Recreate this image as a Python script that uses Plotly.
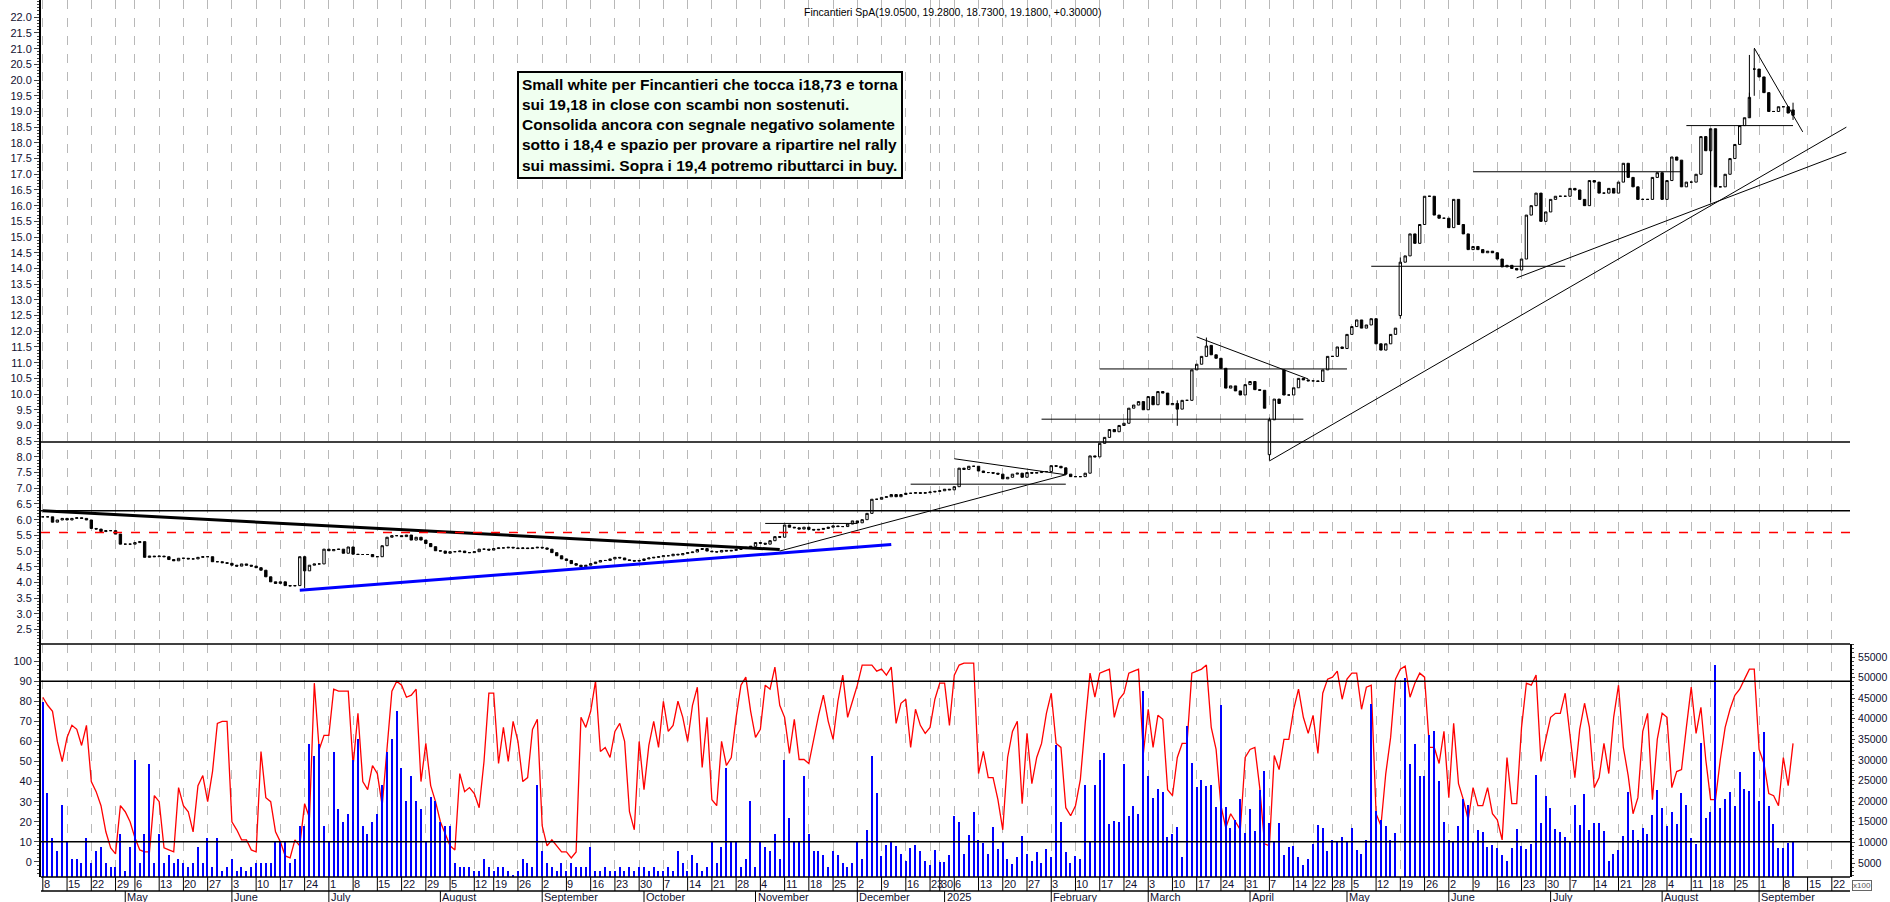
import pandas as pd
import plotly.graph_objects as go

HOLIDAYS = ["2024-05-01", "2024-08-15", "2024-12-24", "2024-12-25", "2024-12-26", "2024-12-31",
            "2025-01-01", "2025-04-18", "2025-04-21", "2025-05-01", "2025-08-15"]
END_DATE = "2025-09-10"
TITLE = "Fincantieri SpA(19.0500, 19.2800, 18.7300, 19.1800, +0.30000)"
NOTE = ("Small white per Fincantieri che tocca i18,73 e torna<br>sui 19,18 in close con scambi non sostenuti.<br>"
        "Consolida ancora con segnale negativo solamente<br>sotto i 18,4 e spazio per provare a ripartire nel rally<br>"
        "sui massimi. Sopra i 19,4 potremo ributtarci in buy.")

# ---- closes by segment (segment start date, values) ----
close_apr_aug24 = [6.09,6.09,5.92,5.99,6.04,5.99,6.04,6.06,6.04,5.99,5.72,5.7,5.62,5.65,5.65,5.54,5.22,5.22,5.22,5.27,
                   5.3,4.8,4.84,4.82,4.84,4.82,4.73,4.69,4.77,4.77,4.75,4.75,4.8,4.82,4.82,4.66,4.66,4.63,4.61,4.55,
                   4.52,4.59,4.55,4.52,4.47,4.39,4.18,4.02,3.97,4.02,3.9,3.89,3.9,4.82,4.37,4.55,4.59,4.59,5.06,5.01,
                   5.05,5.06,4.93,5.13,4.9,4.89,4.89,4.89,4.82,4.82,5.17,5.44,5.49,5.49,5.46,5.51,5.35,5.44,5.35,5.24,
                   5.14,5.01,5.0,4.93,4.98,4.98,5.0,4.95,4.95,4.98,5.06,5.06,5.03]
close_aug_oct24 = [5.08,5.1,5.1,5.12,5.1,5.08,5.1,5.08,5.1,5.12,5.1,5.06,4.95,4.85,4.75,4.7,4.6,4.55,4.5,4.55,
                   4.6,4.65,4.7,4.7,4.75,4.8,4.78,4.72,4.7,4.68,4.7,4.75,4.78,4.8,4.82,4.85,4.85,4.9,4.88,4.92,
                   4.95,4.97,5.05,5.08,5.0,4.98,4.97,5.02,5.0,5.02,5.05,5.08,5.12,5.15]
close_nov_dec24 = [5.27,5.25,5.22,5.33,5.46,5.44,5.83,5.76,5.74,5.7,5.76,5.69,5.67,5.69,5.72,5.76,5.8,5.78,5.78,5.86,
                   5.96,5.9,6.0,6.2,6.65,6.65,6.71,6.73,6.8,6.73,6.8]
close_dec24_may25 = [6.84,6.84,6.86,6.84,6.86,6.88,6.9,6.92,6.97,6.95,7.05,7.64,7.6,7.7,7.7,7.55,7.5,7.5,7.48,7.45,
                     7.3,7.35,7.45,7.48,7.35,7.5,7.48,7.5,7.53,7.53,7.72,7.7,7.65,7.45,7.37,7.37,7.37,7.48,8.03,8.0,
                     8.43,8.62,8.87,8.8,9.0,9.07,9.55,9.65,9.76,9.5,9.92,9.66,10.08,10.03,9.66,9.7,9.52,9.8,9.8,10.77,
                     10.95,11.2,11.53,11.25,11.14,10.82,10.19,10.26,10.1,9.97,10.3,10.4,10.14,10.12,9.55,9.18,9.84,9.7,9.97,9.97,
                     10.2,10.5,10.45,10.42,10.42,10.4,10.77,11.2,11.2,11.5,11.45,11.9,12.15,12.36,12.1,12.2,12.4,11.6,11.4,11.6,
                     11.9,12.1,12.5]
close_may_sep25 = [14.2,14.4,15.1,14.8,15.4,16.3,16.3,15.7,15.6,15.6,15.3,16.2,15.4,15.1,14.6,14.7,14.6,14.5,14.55,14.5,
                   14.3,14.05,14.1,14.0,13.95,14.3,15.7,16.0,16.4,15.5,15.8,16.2,16.3,16.3,16.3,16.55,16.5,16.2,16.0,16.8,
                   16.75,16.4,16.4,16.55,16.4,16.75,17.35,16.9,16.6,16.2,16.2,16.2,16.9,17.05,16.2,16.8,17.55,17.45,16.6,16.75,
                   16.75,17.0,18.2,17.75,18.45,16.6,16.6,17.0,17.5,17.95,18.55,18.8,19.45,20.35,20.1,19.6,19.0,19.0,19.15,19.15,
                   18.95,18.88,19.18]
open_gaps = {"2025-04-07": 8.07, "2025-04-10": 10.77, "2025-05-19": 12.5, "2025-08-14": 18.2,
             "2025-08-29": 20.35, "2025-09-10": 19.05, "2025-03-20": 11.55}
wicks = {"2025-04-07": (9.25, 7.88), "2025-09-10": (19.28, 18.73), "2024-06-24": (4.85, 3.82),
         "2025-08-28": (20.8, 19.6), "2025-08-29": (21.0, 19.5), "2025-03-11": (9.8, 8.99),
         "2025-05-19": (14.35, 12.4), "2025-08-18": (16.65, 16.1), "2025-03-19": (11.8, 11.2)}

# ---- oscillator (0-100) ----
osc_apr_dec24 = [82,78,75,60,50, 62,68,66,58,68, 40,35,28,15,7, 4,28,25,20,12, 6,5,5,33,30, 7,6,5,37,28,
                 25,15,38,43,30, 45,69,70,70,20, 16,11,11,6,5, 55,32,30,15,10, 3,2,11,8,29, 22,89,56,63,63,
                 86,85,85,85,48, 74,40,36,48,44, 28,55,85,90,88, 82,83,86,40,59, 38,30,20,14,8, 6,44,35,37,34,
                 27,50,84,84,49, 67,50,70,60,40, 42,66,71,18,8, 11,8,5,5,2, 5,72,67,75,90, 55,57,52,65,69,
                 60,25,16,60,36, 58,70,57,80,65, 68,80,72,60,78, 87,47,72,31,28, 60,48,52,72,88, 92,75,62,66,88,
                 86,97,78,72,54, 71,51,51,49,61, 73,83,70,61,80, 93,72,80,88,98, 98,98,95,97,68]
osc_dec24_may25 = [96,93,97,69,79,81,57,76,68,64,67,81,89,89,68,93,98,99,99,99,44,55,42,42,31,16,52,65,70,29,
                   64,39,52,59,74,84,59,57,27,23,28,41,69,94,82,94,95,96,72,81,84,94,95,96,54,76,57,73,71,36,
                   33,52,59,59,94,95,96,98,67,56,28,17,24,20,16,52,56,57,37,9,8,53,46,61,61,76,86,72,64,73,
                   54,84,91,92,95,81,91,94,94,76,87,88,24,18,44,62,83,96]
osc_may_sep25 = [91,96,97.5,82,89,94,92,57,57,49,65,32,69,39,31,21,37,28,28,37,24,21,11,52,29,29,67,89,88,93,
                 50,61,72,74,74,84,63,42,66,79,67,37,42,59,44,72,88,57,43,24,32,65,74,31,61,74,72,37,45,46,
                 67,87,64,77,51,31,31,51,67,76,83,86,91,96,96,56,49,34,33,28,52,38,59]

# ---- volume (thousands, x100 shares) ----
vol_apr_dec24 = [44,22,11,8,19, 10,6,6,5,11, 5,8,9,5,4, 4,12,3,9,30, 5,12,29,5,12, 5,7,5,6,5,
                 4,5,9,5,11, 4,11,3,4,6, 3,4,3,4,5, 5,5,5,10,10, 10,5,6,14,14, 34,31,34,14,10,
                 32,18,15,17,30, 35,14,12,15,17, 24,32,35,42,28, 20,26,20,18,10, 21,20,15,14,14, 5,4,4,4,3,
                 3,6,4,3,4, 4,3,2,3,6, 5,4,24,8,5, 4,3,5,3,5, 4,4,4,9,3, 3,4,3,3,4,
                 3,4,3,4,4, 3,4,3,3,4, 3,8,5,3,7, 5,3,4,10,5, 9,28,10,10,4, 6,20,4,10,9,
                 8,12,6,30,16, 10,10,26,12,8, 8,7,4,8,7, 5,4,5,10,6, 13,31,22,12,8]
vol_dec24_may25 = [6.7,9.4,10.2,9.1,7.2,5.6,8.6,9.4,8.0,5.6,4.6,8.2,5.3,5.3,7.0,16.4,14.9,7.3,11.8,17.5,
                   10.7,9.9,7.3,13.8,8.4,10.3,6.0,4.8,6.4,11.6,7.2,5.6,7.6,5.0,8.4,6.4,33.6,14.9,7.7,5,
                   6.7,6.0,23.9,10.2,23.9,30,31.6,14.5,15.2,14.9,29,16.4,18.8,17,46.7,26.1,20.7,23,22.2,11.2,
                   12,13.7,6.4,38.3,29.2,23.5,25.1,23.8,23.9,18.7,43.4,18.5,13.4,15.4,20.5,12.4,18,12.8,22.7,27.4,
                   14.6,10.2,14.6,6.9,8.8,9.1,6.4,4.5,6,9.6,14.2,13.4,7.9,10.6,10.2,11.4,10.2,13.4,8.2,7.2,
                   10.6,43.6,17.6,15.4,14,10.6,12.4]
vol_may_sep25 = [50,29,34,26,26,36,37,25,15,10.5,10,14,20.5,19,10,13,12.6,9,9.3,8.7,7,5.5,8.6,13.3,9.1,8.5,9.7,
                 26.4,14.8,21.3,18.3,13.3,12.5,11.4,10.2,19,14.2,21.7,13,14.6,14.6,12.8,5.5,7.3,8.2,11.5,22.3,13,
                 10.6,13.4,12,16.7,22.7,18.4,14,17.4,14.5,22,19,11.1,9.7,34.2,16,17.5,53,18.4,20.5,22.2,18.8,27,
                 23,22.5,32,20,36.8,18.8,14.5,8.7,8.7,9.8,10.2]

# ---- drawn lines (date0, price0, date1, price1, color, width) ----
trendlines = [("2024-04-08", 6.28, "2024-11-08", 5.05, "black", 3),
              ("2024-06-21", 3.75, "2024-12-11", 5.21, "#0000ff", 3),
              ("2024-11-08", 5.0, "2025-02-06", 7.43, "black", 1),
              ("2024-11-05", 5.88, "2024-12-02", 5.88, "black", 1),
              ("2024-12-17", 7.13, "2025-02-06", 7.13, "black", 1),
              ("2025-01-06", 7.94, "2025-02-06", 7.43, "black", 1),
              ("2025-01-30", 9.2, "2025-04-16", 9.2, "black", 1),
              ("2025-02-17", 10.8, "2025-05-02", 10.8, "black", 1),
              ("2025-03-17", 11.82, "2025-04-17", 10.48, "black", 1),
              ("2025-04-07", 7.87, "2025-09-25", 18.5, "black", 1),
              ("2025-06-20", 13.7, "2025-09-25", 17.7, "black", 1),
              ("2025-05-09", 14.07, "2025-07-04", 14.07, "black", 1),
              ("2025-06-09", 17.08, "2025-08-07", 17.08, "black", 1),
              ("2025-08-08", 18.55, "2025-09-10", 18.55, "black", 1),
              ("2025-08-29", 21.02, "2025-09-12", 18.35, "black", 1)]
levels = [(8.47, "solid", "black"), (6.28, "solid", "black"), (5.59, "dash", "#ff0000")]
osc_levels = [90, 10]
MONTHS = ["January", "February", "March", "April", "May", "June", "July", "August",
          "September", "October", "November", "December"]

# ---------- build ----------
hol = pd.to_datetime(HOLIDAYS)
cal = pd.bdate_range("2024-04-01", "2025-10-31")
cal = cal[~cal.isin(hol)]
end = pd.Timestamp(END_DATE)


def place(segments):
    d = {}
    for anchor, date, vals in segments:
        i0 = cal.searchsorted(pd.Timestamp(date))
        if anchor == "end":
            i0 = i0 - len(vals) + 1
        for k, v in enumerate(vals):
            d[cal[i0 + k]] = v
    s = pd.Series(d).sort_index()
    return s[s.index <= end]


close = place([("start", "2024-04-08", close_apr_aug24), ("start", "2024-08-19", close_aug_oct24),
               ("start", "2024-11-01", close_nov_dec24), ("start", "2024-12-16", close_dec24_may25),
               ("start", "2025-05-19", close_may_sep25)])
opn = close.shift(1).fillna(close.iloc[0])
for k, v in open_gaps.items():
    if pd.Timestamp(k) in opn.index:
        opn[pd.Timestamp(k)] = v
high = pd.concat([opn, close], axis=1).max(axis=1)
low = pd.concat([opn, close], axis=1).min(axis=1)
for k, (h, l) in wicks.items():
    t = pd.Timestamp(k)
    if t in high.index:
        high[t] = h
        low[t] = l

osc = place([("start", "2024-04-08", osc_apr_dec24), ("start", "2024-12-09", osc_dec24_may25),
             ("end", END_DATE, osc_may_sep25)])
vol = place([("start", "2024-04-08", vol_apr_dec24), ("start", "2024-12-09", vol_dec24_may25),
             ("end", END_DATE, vol_may_sep25)])

W, H = 1890, 902
ML, MR, MT, MB = 41, 40, 0, 25
PH = H - MT - MB
SPLIT = (877 - 644) / PH
XR = ["2024-04-05 15:00", "2025-09-25 18:00"]
rb = [dict(bounds=["sat", "mon"]), dict(values=HOLIDAYS)]

weeks = pd.Series(cal, index=cal)
week_starts = weeks.groupby(weeks.index.to_period("W")).first().values
week_starts = [pd.Timestamp(w) for w in week_starts if pd.Timestamp(XR[0]) < pd.Timestamp(w) < pd.Timestamp(XR[1])]
month_starts = weeks.groupby(weeks.index.to_period("M")).first().values
month_starts = [pd.Timestamp(m) for m in month_starts if pd.Timestamp("2024-05-01") <= pd.Timestamp(m) < pd.Timestamp(XR[1])]

fig = go.Figure()
fig.add_trace(go.Candlestick(x=close.index, open=opn, high=high, low=low, close=close,
                             xaxis="x2", yaxis="y",
                             increasing=dict(line=dict(color="black", width=1), fillcolor="white"),
                             decreasing=dict(line=dict(color="black", width=1), fillcolor="black"),
                             whiskerwidth=0, showlegend=False, hoverinfo="skip"))
fig.add_trace(go.Bar(x=vol.index, y=vol.values * 1000, xaxis="x", yaxis="y4",
                     marker=dict(color="#0000ff", line=dict(width=0)), width=86400000 * 0.28,
                     showlegend=False, hoverinfo="skip"))
fig.add_trace(go.Scatter(x=osc.index, y=osc.values, xaxis="x", yaxis="y2", mode="lines",
                         line=dict(color="#ff0000", width=1.3), showlegend=False, hoverinfo="skip"))

tickfont = dict(family="Liberation Sans, Arial", size=11, color="#101030")
rfont = dict(family="Liberation Sans, Arial", size=10.5, color="#101030")
xcommon = dict(type="date", range=XR, rangebreaks=rb, tickvals=week_starts, showticklabels=False,
               showgrid=True, gridcolor="#b8b8b8", griddash="dash", gridwidth=1, zeroline=False,
               showline=False, fixedrange=True)
pcommon = dict(domain=[SPLIT, 1], range=[2.04, 22.55], tickvals=[2.5 + 0.5 * i for i in range(40)],
               tickformat=".1f", showgrid=False, zeroline=False,
               showline=True, linecolor="black", linewidth=2)
fig.update_layout(
    width=W, height=H, margin=dict(l=ML, r=MR, t=MT, b=MB), paper_bgcolor="white", plot_bgcolor="white",
    bargap=0, showlegend=False,
    xaxis=dict(anchor="y2", domain=[0, 1], **xcommon),
    xaxis2=dict(anchor="y", domain=[0, 1], matches="x", rangeslider=dict(visible=False), **xcommon),
    yaxis=dict(side="left", anchor="x2", ticks="outside", ticklen=5, tickfont=tickfont,
               minor=dict(dtick=0.1, ticks="outside", ticklen=2, tick0=0), **pcommon),
    yaxis3=dict(side="right", overlaying="y", anchor="x2", ticks="outside", ticklen=3, tickfont=rfont,
                ticklabelstandoff=1, minor=dict(dtick=0.1, ticks="outside", ticklen=2, tick0=0), **pcommon),
    yaxis2=dict(domain=[0, SPLIT], range=[-7.5, 108.5], tickvals=list(range(0, 101, 10)), side="left",
                ticks="outside", ticklen=5, showgrid=False, zeroline=False, showline=True, linecolor="black",
                linewidth=2, tickfont=tickfont, anchor="x",
                minor=dict(dtick=2, ticks="outside", ticklen=2)),
    yaxis4=dict(overlaying="y2", side="right", range=[1602, 58155], tickvals=list(range(5000, 55001, 5000)),
                tickformat="d", ticks="outside", ticklen=3, showgrid=False, zeroline=False, showline=True,
                linecolor="black", linewidth=2, tickfont=rfont, anchor="x", ticklabelstandoff=1,
                minor=dict(dtick=1000, ticks="outside", ticklen=2)),
)

shapes = []
for d0, p0, d1, p1, col, w in trendlines:
    shapes.append(dict(type="line", xref="x2", yref="y", x0=d0, y0=p0, x1=d1, y1=p1,
                       line=dict(color=col, width=w)))
for p, dash, col in levels:
    shapes.append(dict(type="line", xref="paper", yref="y", x0=0, x1=1, y0=p, y1=p,
                       line=dict(color=col, width=1.6 if dash == "dash" else 1.5, dash="dash" if dash == "dash" else "solid")))
for v in osc_levels:
    shapes.append(dict(type="line", xref="paper", yref="y2", x0=0, x1=1, y0=v, y1=v,
                       line=dict(color="black", width=1.5)))
shapes.append(dict(type="line", xref="paper", yref="paper", x0=0, x1=1, y0=SPLIT, y1=SPLIT,
                   line=dict(color="black", width=1.5)))
shapes.append(dict(type="line", xref="paper", yref="paper", x0=0, x1=1, y0=0, y1=0,
                   line=dict(color="black", width=1.5)))
shapes.append(dict(type="line", xref="paper", yref="paper", x0=0, x1=1, y0=-14 / PH, y1=-14 / PH,
                   line=dict(color="black", width=1.5)))
for wk in week_starts:
    shapes.append(dict(type="line", xref="x", yref="paper", x0=wk, x1=wk, y0=0, y1=-14 / PH,
                       line=dict(color="black", width=1)))
for m in month_starts:
    shapes.append(dict(type="line", xref="x", yref="paper", x0=m, x1=m, y0=-14 / PH, y1=-25 / PH,
                       line=dict(color="black", width=1)))

ann = []
for wk in week_starts:
    ann.append(dict(x=wk, y=0, xref="x", yref="paper", text=str(wk.day), showarrow=False,
                    xanchor="left", yanchor="top", yshift=0, xshift=0, borderpad=0, font=tickfont))
for m in month_starts:
    label = str(m.year) if m.month == 1 else MONTHS[m.month - 1]
    ann.append(dict(x=m, y=-14 / PH, xref="x", yref="paper", text=label, showarrow=False,
                    xanchor="left", yanchor="top", yshift=1, xshift=1, borderpad=0, font=tickfont))
ann.append(dict(x=(802 - ML) / (W - ML - MR), y=1 - 4 / PH, xref="paper", yref="paper", text=TITLE,
                showarrow=False, xanchor="left", yanchor="top",
                font=dict(family="Liberation Sans, Arial", size=10.5, color="black")))
ann.append(dict(x=(517 - ML) / (W - ML - MR), y=1 - 71 / PH, xref="paper", yref="paper", text=NOTE,
                showarrow=False, xanchor="left", yanchor="top", align="left",
                bgcolor="#f0fff0", bordercolor="black", borderwidth=2, borderpad=3,
                font=dict(family="Liberation Sans, Arial", size=15.5, color="black", weight="bold")))
ann.append(dict(x=1, y=-8 / PH, xref="paper", yref="paper", text="x100", showarrow=False,
                xanchor="left", yanchor="middle", xshift=2, bordercolor="#666", borderwidth=1, borderpad=0,
                font=dict(family="Liberation Sans, Arial", size=8, color="#555")))
fig.update_layout(shapes=shapes, annotations=ann)
fig.write_html("out.html", config={"displayModeBar": False})

# remove the default page margin so the 1890x902 figure fits the window without scrollbars
with open("out.html", "r", encoding="utf-8") as f:
    html = f.read()
html = html.replace("<head>", "<head><style>html,body{margin:0;padding:0;overflow:hidden;}</style>", 1)
with open("out.html", "w", encoding="utf-8") as f:
    f.write(html)
